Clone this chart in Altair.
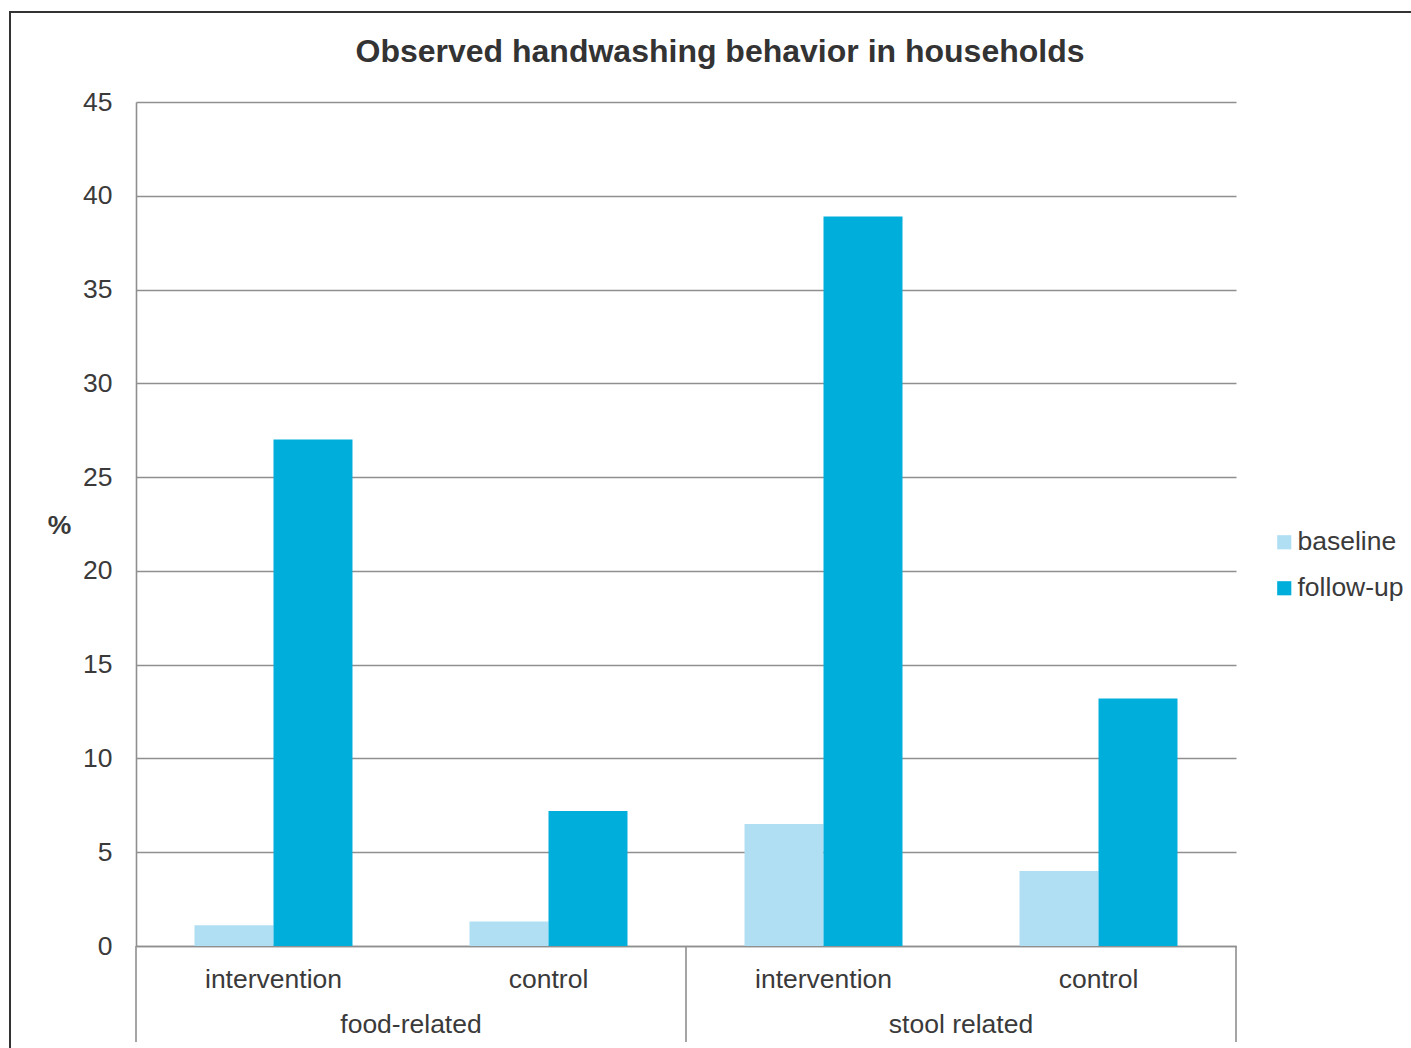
import altair as alt
import pandas as pd

# Observed handwashing (%) by behaviour group and study arm
groups = ["food-related", "food-related", "stool related", "stool related"]
arms = ["intervention", "control", "intervention", "control"]
baseline = [1.1, 1.3, 6.5, 4.0]
follow_up = [27.0, 7.2, 38.9, 13.2]
series_names = ["baseline", "follow-up"]
series_colors = ["#b0dff3", "#00aedb"]
y_ticks = [0, 5, 10, 15, 20, 25, 30, 35, 40, 45]
title_text = "Observed handwashing behavior in households"

FONT = "Liberation Sans"
TEXT = "#3a3a3a"
GRID = "#8f8f8f"
FS = 26.5
W, H = 1100, 844

keys = [f"{g}|{a}" for g, a in zip(groups, arms)]
rows = []
for k, g, a, b, f in zip(keys, groups, arms, baseline, follow_up):
    rows.append({"key": k, "group": g, "arm": a, "series": "baseline", "value": b})
    rows.append({"key": k, "group": g, "arm": a, "series": "follow-up", "value": f})
bars_df = pd.DataFrame(rows)

group_names = list(dict.fromkeys(groups))
groups_df = pd.DataFrame({"group": group_names})
edges_df = pd.DataFrame({"edge": list(range(len(group_names) + 1))})

y_enc = alt.Y(
    "value:Q",
    scale=alt.Scale(domain=[0, 45], nice=False),
    axis=alt.Axis(
        values=y_ticks,
        ticks=False,
        grid=True,
        gridColor=GRID,
        gridWidth=1.6,
        domainColor=GRID,
        domainWidth=1.6,
        labelFont=FONT,
        labelFontSize=FS,
        labelColor=TEXT,
        labelPadding=24,
        title="%",
        titleFont=FONT,
        titleFontSize=FS,
        titleFontWeight="bold",
        titleColor=TEXT,
        titleAngle=0,
        titleAlign="center",
        titleBaseline="middle",
        titleX=-77,
        titleY=423,
    ),
)

bars = alt.Chart(bars_df).mark_bar().encode(
    x=alt.X(
        "key:N",
        sort=keys,
        scale=alt.Scale(paddingInner=0.4255, paddingOuter=0.2127),
        axis=alt.Axis(
            title=None,
            ticks=False,
            grid=False,
            domainColor=GRID,
            domainWidth=1.6,
            labelAngle=0,
            labelExpr="split(datum.label, '|')[1]",
            labelFont=FONT,
            labelFontSize=FS,
            labelColor=TEXT,
            labelBaseline="alphabetic",
            labelPadding=41,
        ),
    ),
    xOffset=alt.XOffset(
        "series:N",
        sort=series_names,
        scale=alt.Scale(paddingInner=0, paddingOuter=0),
    ),
    y=y_enc,
    color=alt.Color(
        "series:N",
        sort=series_names,
        scale=alt.Scale(domain=series_names, range=series_colors),
        legend=alt.Legend(
            title=None,
            orient="none",
            legendX=1135,
            legendY=427,
            symbolType="square",
            symbolSize=200,
            symbolStrokeWidth=0,
            labelFont=FONT,
            labelFontSize=FS,
            labelColor=TEXT,
            labelOffset=0,
            rowPadding=19,
        ),
    ),
)

# Group names under the arm labels
group_labels = alt.Chart(groups_df).mark_text(
    font=FONT, fontSize=FS, color=TEXT, baseline="alphabetic"
).encode(
    x=alt.X(
        "group:N",
        sort=group_names,
        scale=alt.Scale(paddingInner=0, paddingOuter=0),
        axis=None,
    ),
    y=alt.value(H + 87),
    text="group:N",
)

# Vertical separators between the groups
separators = alt.Chart(edges_df).mark_rule(color=GRID, strokeWidth=1.6).encode(
    x=alt.X(
        "edge:Q",
        scale=alt.Scale(domain=[0, len(group_names)], nice=False, zero=False),
        axis=None,
    ),
    y=alt.value(H),
    y2=alt.value(H + 96),
)

title = alt.Chart(pd.DataFrame({"t": [title_text]})).mark_text(
    font=FONT, fontSize=32, fontWeight="bold", color="#333333",
    baseline="alphabetic", align="center",
).encode(
    x=alt.value(584),
    y=alt.value(-40),
    text="t:N",
)

frame = alt.Chart(pd.DataFrame({"f": [0]})).mark_rect(
    fill=None, filled=False, stroke="#333333", strokeWidth=2
).encode(
    x=alt.value(-126),
    x2=alt.value(W + 300),
    y=alt.value(-90),
    y2=alt.value(H + 300),
)

chart = (
    alt.layer(frame, bars, group_labels, separators, title)
    .resolve_scale(x="independent")
    .properties(
        width=W,
        height=H,
        autosize=alt.AutoSizeParams(type="none"),
        padding={"left": 136, "top": 102, "right": 175, "bottom": 102},
        background="white",
    )
    .configure_view(stroke=None)
)

chart.save("out.html", embed_options={"renderer": "svg", "actions": False})
